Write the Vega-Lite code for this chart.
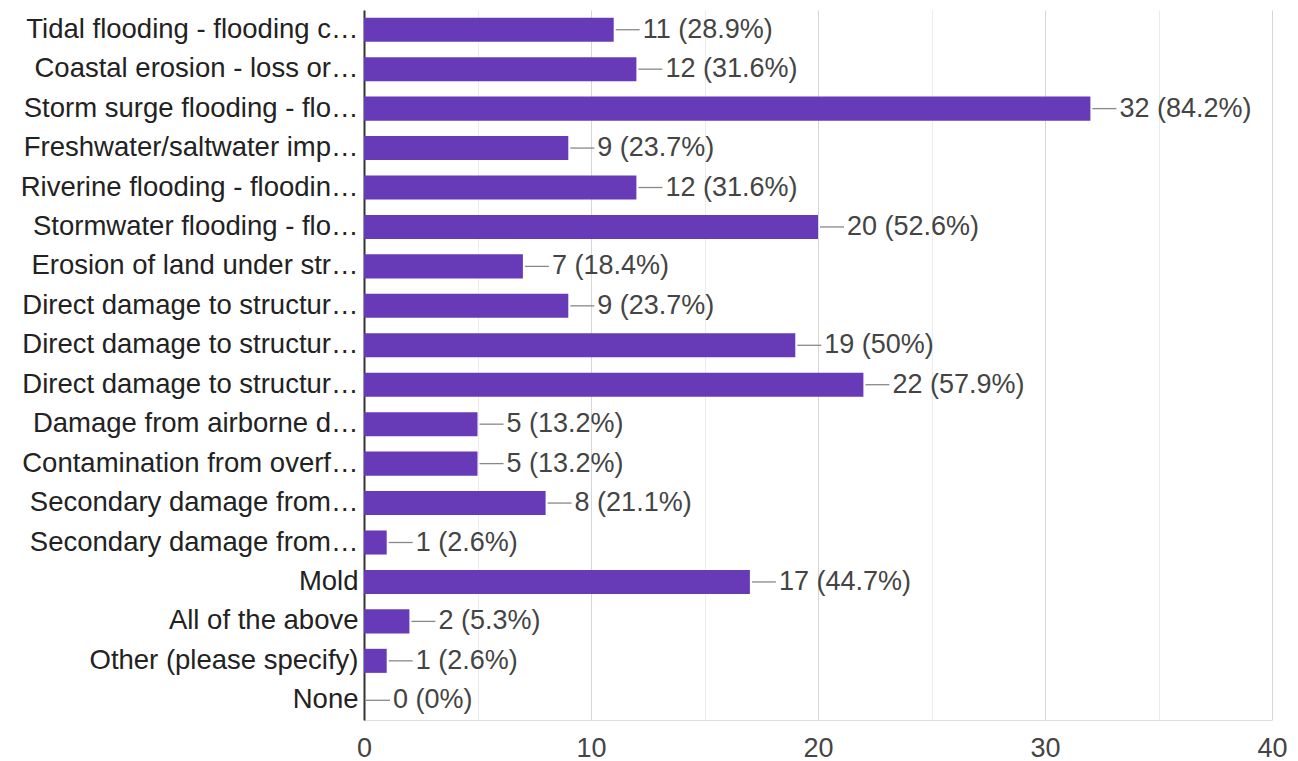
{
  "$schema": "https://vega.github.io/schema/vega-lite/v6.json",
  "width": 908,
  "height": 710,
  "autosize": "none",
  "padding": {"left": 364, "top": 10, "right": 26, "bottom": 41},
  "background": "white",
  "config": {"view": {"stroke": null}, "font": "Liberation Sans"},
  "data": {"values": [
    {"key": "Tidal flooding - flooding c…|1", "n": 11, "label": "11 (28.9%)"},
    {"key": "Coastal erosion - loss or…|2", "n": 12, "label": "12 (31.6%)"},
    {"key": "Storm surge flooding - flo…|3", "n": 32, "label": "32 (84.2%)"},
    {"key": "Freshwater/saltwater imp…|4", "n": 9, "label": "9 (23.7%)"},
    {"key": "Riverine flooding - floodin…|5", "n": 12, "label": "12 (31.6%)"},
    {"key": "Stormwater flooding - flo…|6", "n": 20, "label": "20 (52.6%)"},
    {"key": "Erosion of land under str…|7", "n": 7, "label": "7 (18.4%)"},
    {"key": "Direct damage to structur…|8", "n": 9, "label": "9 (23.7%)"},
    {"key": "Direct damage to structur…|9", "n": 19, "label": "19 (50%)"},
    {"key": "Direct damage to structur…|10", "n": 22, "label": "22 (57.9%)"},
    {"key": "Damage from airborne d…|11", "n": 5, "label": "5 (13.2%)"},
    {"key": "Contamination from overf…|12", "n": 5, "label": "5 (13.2%)"},
    {"key": "Secondary damage from…|13", "n": 8, "label": "8 (21.1%)"},
    {"key": "Secondary damage from…|14", "n": 1, "label": "1 (2.6%)"},
    {"key": "Mold|15", "n": 17, "label": "17 (44.7%)"},
    {"key": "All of the above|16", "n": 2, "label": "2 (5.3%)"},
    {"key": "Other (please specify)|17", "n": 1, "label": "1 (2.6%)"},
    {"key": "None|18", "n": 0, "label": "0 (0%)"}
  ]},
  "encoding": {
    "y": {
      "field": "key", "type": "nominal", "sort": null,
      "scale": {"paddingInner": 0.39, "paddingOuter": 0.195},
      "axis": {
        "title": null, "ticks": false, "grid": false,
        "domain": true, "domainColor": "#333333", "domainWidth": 2,
        "labelExpr": "split(datum.value, '|')[0]",
        "labelFontSize": 27.5, "labelColor": "#222222", "labelPadding": 6,
        "labelLimit": 400, "labelFont": "Liberation Sans"
      }
    }
  },
  "layer": [
    {
      "mark": {"type": "bar", "color": "#673ab7"},
      "encoding": {
        "x": {
          "field": "n", "type": "quantitative",
          "scale": {"domain": [0, 40], "nice": false},
          "axis": {
            "title": null, "values": [0, 5, 10, 15, 20, 25, 30, 35, 40],
            "labelExpr": "datum.value % 10 === 0 ? datum.label : ''",
            "ticks": false, "domain": true, "domainColor": "#e0e0e0",
            "grid": true,
            "gridColor": {"condition": {"test": "datum.value % 10 === 0", "value": "#d6d6d6"}, "value": "#ececec"},
            "labelFontSize": 27, "labelColor": "#444444", "labelPadding": 15,
            "labelFont": "Liberation Sans", "labelFlush": false
          }
        }
      }
    },
    {
      "mark": {"type": "rule", "color": "#888888", "strokeWidth": 1.3, "xOffset": 2, "x2Offset": 26},
      "encoding": {
        "x": {"field": "n", "type": "quantitative"},
        "x2": {"field": "n"}
      }
    },
    {
      "mark": {"type": "text", "align": "left", "baseline": "middle", "dx": 29, "fontSize": 27, "color": "#444444", "font": "Liberation Sans"},
      "encoding": {
        "x": {"field": "n", "type": "quantitative"},
        "text": {"field": "label"}
      }
    }
  ]
}
